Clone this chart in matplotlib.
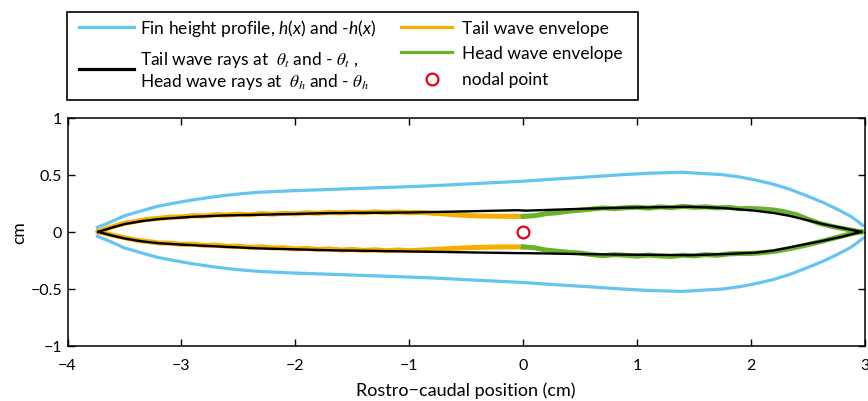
import matplotlib
matplotlib.use("Agg")
import matplotlib.pyplot as plt
from matplotlib.patches import Rectangle

plt.rcParams['font.family'] = ['Lato', 'DejaVu Sans']
plt.rcParams['mathtext.fontset'] = 'custom'
plt.rcParams['mathtext.rm'] = 'Lato'
plt.rcParams['mathtext.it'] = 'Lato:italic'
plt.rcParams['mathtext.cal'] = 'STIXGeneral:italic'
plt.rcParams['mathtext.fallback'] = 'stix'

# ---------------- data ----------------
# fin height profile h(x)
profile_x = [-3.74, -3.65, -3.50, -3.35, -3.21, -3.06, -2.91, -2.77, -2.62, -2.47,
             -2.33, -2.03, -1.68, -1.20, -0.80, -0.40, 0.00, 0.25, 0.60, 0.87,
             1.10, 1.40, 1.75, 1.90, 2.04, 2.19, 2.335, 2.48, 2.63, 2.75,
             2.867, 2.93, 2.985]
profile_h = [0.039, 0.074, 0.141, 0.185, 0.224, 0.253, 0.279, 0.300, 0.320, 0.335,
             0.347, 0.361, 0.373, 0.390, 0.405, 0.425, 0.445, 0.462, 0.484, 0.502,
             0.515, 0.523, 0.502, 0.482, 0.455, 0.420, 0.376, 0.320, 0.259, 0.202,
             0.141, 0.097, 0.053]

# wave rays (black)
ray_x = [-3.73, -3.60, -3.50, -3.35, -3.20, -2.91, -2.62, -2.33, -1.68, -1.00,
         -0.50, -0.05, 0.02, 0.50, 0.87, 1.46, 1.75, 2.04, 2.20, 2.335,
         2.48, 2.63, 2.80, 2.966]
ray_upper = [0.000, 0.040, 0.068, 0.094, 0.112, 0.132, 0.144, 0.150, 0.165, 0.170,
             0.180, 0.190, 0.186, 0.202, 0.212, 0.220, 0.210, 0.185, 0.165, 0.141,
             0.106, 0.068, 0.034, 0.000]
ray_lower = [0.000, -0.035, -0.058, -0.083, -0.100, -0.117, -0.131, -0.145, -0.162, -0.172,
             -0.180, -0.187, -0.187, -0.195, -0.200, -0.205, -0.196, -0.183, -0.164, -0.137,
             -0.108, -0.079, -0.042, 0.000]

# tail wave envelope (orange)
tail_x = [-3.73, -3.70, -3.60, -3.50, -3.40, -3.30, -3.20, -3.10, -3.00, -2.90,
          -2.80, -2.70, -2.60, -2.50, -2.40, -2.30, -2.20, -2.10, -2.00, -1.90,
          -1.80, -1.70, -1.60, -1.50, -1.40, -1.30, -1.20, -1.10, -1.00, -0.90,
          -0.80, -0.70, -0.60, -0.50, -0.40, -0.30, -0.20, -0.10, 0.00]
tail_upper = [0.000, 0.014, 0.046, 0.076, 0.092, 0.110, 0.118, 0.130, 0.131, 0.142,
              0.139, 0.150, 0.147, 0.156, 0.150, 0.160, 0.155, 0.163, 0.158, 0.167,
              0.163, 0.172, 0.166, 0.174, 0.168, 0.176, 0.169, 0.175, 0.168, 0.172,
              0.163, 0.158, 0.150, 0.144, 0.140, 0.138, 0.137, 0.136, 0.136]
tail_lower = [0.000, -0.006, -0.030, -0.052, -0.072, -0.084, -0.097, -0.100, -0.110, -0.108,
              -0.119, -0.116, -0.127, -0.125, -0.136, -0.132, -0.142, -0.139, -0.150, -0.145,
              -0.155, -0.150, -0.160, -0.154, -0.163, -0.157, -0.166, -0.159, -0.165, -0.160,
              -0.156, -0.150, -0.145, -0.140, -0.137, -0.134, -0.133, -0.132, -0.132]

# head wave envelope (green)
head_x = [0.00, 0.10, 0.20, 0.30, 0.40, 0.50, 0.60, 0.70, 0.80, 0.90,
          1.00, 1.10, 1.20, 1.30, 1.40, 1.50, 1.60, 1.70, 1.80, 1.90,
          2.00, 2.10, 2.20, 2.30, 2.40, 2.50, 2.60, 2.70, 2.80, 2.90, 2.966]
head_upper = [0.136, 0.142, 0.160, 0.168, 0.182, 0.190, 0.200, 0.210, 0.204, 0.212,
              0.216, 0.208, 0.220, 0.212, 0.224, 0.215, 0.220, 0.210, 0.215, 0.203,
              0.205, 0.200, 0.192, 0.175, 0.150, 0.110, 0.075, 0.050, 0.030, 0.012, 0.000]
head_lower = [-0.132, -0.140, -0.160, -0.170, -0.180, -0.186, -0.200, -0.210, -0.200, -0.206,
              -0.213, -0.204, -0.211, -0.216, -0.205, -0.211, -0.200, -0.206, -0.194, -0.190,
              -0.190, -0.183, -0.172, -0.155, -0.135, -0.112, -0.088, -0.062, -0.036, -0.012, 0.000]

nodal_x = [0.0]
nodal_y = [0.0]

xticks = [-4, -3, -2, -1, 0, 1, 2, 3]
xtick_labels = ['\u22124', '\u22123', '\u22122', '\u22121', '0', '1', '2', '3']
yticks = [-1, -0.5, 0, 0.5, 1]
ytick_labels = ['\u22121', '\u22120.5', '0', '0.5', '1']

BLUE = '#66C4F0'
ORANGE = '#F4B000'
GREEN = '#6AB22C'
RED = '#E3001B'

# ---------------- figure ----------------
W, H = 868, 402
fig = plt.figure(figsize=(W / 100, H / 100), dpi=100)
L, R, T, B = 67.5, 865, 119, 346.7
ax = fig.add_axes([L / W, 1 - B / H, (R - L) / W, (B - T) / H])

neg_h = [-v for v in profile_h]
ax.plot(profile_x, profile_h, color=BLUE, lw=2.3, zorder=2, solid_capstyle='round')
ax.plot(profile_x, neg_h, color=BLUE, lw=2.3, zorder=2, solid_capstyle='round')
ax.plot(tail_x, tail_upper, color=ORANGE, lw=3.6, zorder=3)
ax.plot(tail_x, tail_lower, color=ORANGE, lw=3.6, zorder=3)
ax.plot(head_x, head_upper, color=GREEN, lw=3.6, zorder=3)
ax.plot(head_x, head_lower, color=GREEN, lw=3.6, zorder=3)
ax.plot(ray_x, ray_upper, color='black', lw=1.7, zorder=4)
ax.plot(ray_x, ray_lower, color='black', lw=1.7, zorder=4)
ax.plot(nodal_x, nodal_y, 'o', mfc='none', mec=RED, mew=1.6, ms=8.5, zorder=5)

ax.set_xlim(-4, 3)
ax.set_ylim(-1, 1)
ax.set_xticks(xticks)
ax.set_xticklabels(xtick_labels)
ax.set_yticks(yticks)
ax.set_yticklabels(ytick_labels)
ax.tick_params(direction='in', top=True, right=True, length=5, width=1,
               labelsize=11.5, colors='black')
ax.tick_params(axis='x', pad=9)
ax.tick_params(axis='y', pad=4)
for s in ax.spines.values():
    s.set_linewidth(1.1)
ax.set_xlabel('Rostro\u2212caudal position (cm)', fontsize=13, labelpad=7)
ax.set_ylabel('cm', fontsize=12.5, labelpad=2)

# ---------------- legend (drawn manually) ----------------
lax = fig.add_axes([0, 0, 1, 1], zorder=10)
lax.set_xlim(0, W)
lax.set_ylim(H, 0)
lax.axis('off')
lax.add_patch(Rectangle((67, 12.5), 570.5, 88, fill=True, fc='white', ec='black', lw=1.2))

fs = 12.5
th_t = '$\\mathcal{\\theta}_{\\mathcal{t}}$'
th_h = '$\\mathcal{\\theta}_{\\mathcal{h}}$'
lax.plot([78.5, 134], [27.5, 27.5], color=BLUE, lw=2.3)
lax.text(140, 34, 'Fin height profile, $\\mathit{h(x)}$ and -$\\mathit{h(x)}$',
         fontsize=fs, va='baseline', ha='left')
lax.plot([78.5, 134], [70, 70], color='black', lw=2.3)
lax.text(140, 65, 'Tail wave rays at  ' + th_t + ' and - ' + th_t + ' ,',
         fontsize=fs, va='baseline', ha='left')
lax.text(140, 87, 'Head wave rays at  ' + th_h + ' and - ' + th_h,
         fontsize=fs, va='baseline', ha='left')

lax.plot([400.5, 452], [27.5, 27.5], color=ORANGE, lw=2.3)
lax.text(462, 34, 'Tail wave envelope', fontsize=fs, va='baseline', ha='left')
lax.plot([400.5, 452], [53, 53], color=GREEN, lw=2.3)
lax.text(462, 59, 'Head wave envelope', fontsize=fs, va='baseline', ha='left')
lax.plot([432], [79.5], 'o', mfc='none', mec=RED, mew=1.6, ms=8.5)
lax.text(462, 85, 'nodal point', fontsize=fs, va='baseline', ha='left')

fig.savefig('out.png', dpi=100)
